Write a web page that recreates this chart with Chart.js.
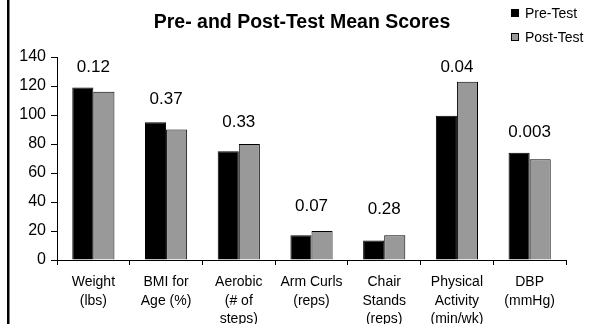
<!DOCTYPE html>
<html>
<head>
<meta charset="utf-8">
<title>Pre- and Post-Test Mean Scores</title>
<script src="https://cdn.jsdelivr.net/npm/chart.js@4/dist/chart.umd.min.js"></script>
<style>
  html, body { margin: 0; padding: 0; background: #fff; }
  canvas { display: block; }
</style>
</head>
<body>
<canvas id="chart" width="595" height="324"></canvas>
<script>
// Дані графіка
const categories = [
    ['Weight', '(lbs)'],
    ['BMI for', 'Age (%)'],
    ['Aerobic', '(# of', 'steps)'],
    ['Arm Curls', '(reps)'],
    ['Chair', 'Stands', '(reps)'],
    ['Physical', 'Activity', '(min/wk)'],
    ['DBP', '(mmHg)']
];
const preTest = [119, 95, 75, 17, 13.5, 99.5, 74];
const postTest = [116, 90, 80, 20, 17, 123, 69.5];
const pValues = ['0.12', '0.37', '0.33', '0.07', '0.28', '0.04', '0.003'];
const pLabelAt = [133, 111, 95, 37, 35, 133, 88]; // висота підписів p у одиницях осі
const yTicks = { min: 0, max: 140, step: 20 };

const FONT = "'Liberation Sans', Arial, sans-serif";

// Заголовок, легенда, рамка та підписи p
const decorPlugin = {
    id: 'decor',
    afterDraw(chart) {
        const ctx = chart.ctx;
        const x = chart.scales.x;
        const y = chart.scales.y;
        ctx.save();

        // ліва рамка
        ctx.fillStyle = '#000';
        ctx.fillRect(7, 0, 2.5, chart.height);

        // заголовок
        ctx.font = 'bold 19.5px ' + FONT;
        ctx.textAlign = 'center';
        ctx.textBaseline = 'middle';
        ctx.fillText('Pre- and Post-Test Mean Scores', 302, 23);

        // підписи p
        ctx.font = '17px ' + FONT;
        pValues.forEach((p, i) => {
            ctx.fillText(p, x.getPixelForValue(i), y.getPixelForValue(pLabelAt[i]));
        });

        // легенда
        ctx.font = '14px ' + FONT;
        ctx.textAlign = 'left';
        chart.data.datasets.forEach((ds, i) => {
            const cy = 13 + i * 24;
            ctx.fillStyle = ds.backgroundColor;
            ctx.fillRect(511, cy - 4, 8, 8);
            ctx.strokeStyle = '#000';
            ctx.lineWidth = 1;
            ctx.strokeRect(511.5, cy - 3.5, 7, 7);
            ctx.fillStyle = '#000';
            ctx.fillText(ds.label, 525, cy + 1);
        });
        ctx.restore();
    }
};

function createChart() {
    const ctx = document.getElementById('chart').getContext('2d');
    new Chart(ctx, {
        type: 'bar',
        data: {
            labels: categories,
            datasets: [
                {
                    label: 'Pre-Test',
                    data: preTest,
                    backgroundColor: '#000000',
                    borderColor: '#000000',
                    borderWidth: 1
                },
                {
                    label: 'Post-Test',
                    data: postTest,
                    backgroundColor: '#999999',
                    borderColor: '#000000',
                    borderWidth: 1
                }
            ]
        },
        options: {
            responsive: false,
            animation: false,
            layout: { padding: { top: 57, right: 29, bottom: 0, left: 0 } },
            datasets: {
                bar: { categoryPercentage: 0.58, barPercentage: 1.0 }
            },
            scales: {
                x: {
                    grid: {
                        offset: true,
                        drawOnChartArea: false,
                        tickLength: 5,
                        color: '#000'
                    },
                    border: { color: '#000', width: 1 },
                    ticks: {
                        color: '#000',
                        font: { family: FONT, size: 14, lineHeight: 1.32 },
                        padding: 8,
                        maxRotation: 0,
                        autoSkip: false
                    },
                    afterFit(scale) { scale.height = 64; }
                },
                y: {
                    min: yTicks.min,
                    max: yTicks.max,
                    grid: {
                        drawOnChartArea: false,
                        tickLength: 6,
                        color: '#000'
                    },
                    border: { color: '#000', width: 1 },
                    ticks: {
                        stepSize: yTicks.step,
                        color: '#000',
                        font: { family: FONT, size: 16 },
                        padding: 5
                    },
                    afterFit(scale) { scale.width = 57; }
                }
            },
            plugins: {
                legend: { display: false },
                title: { display: false },
                tooltip: { enabled: false }
            }
        },
        plugins: [decorPlugin]
    });
}

createChart();
</script>
</body>
</html>
